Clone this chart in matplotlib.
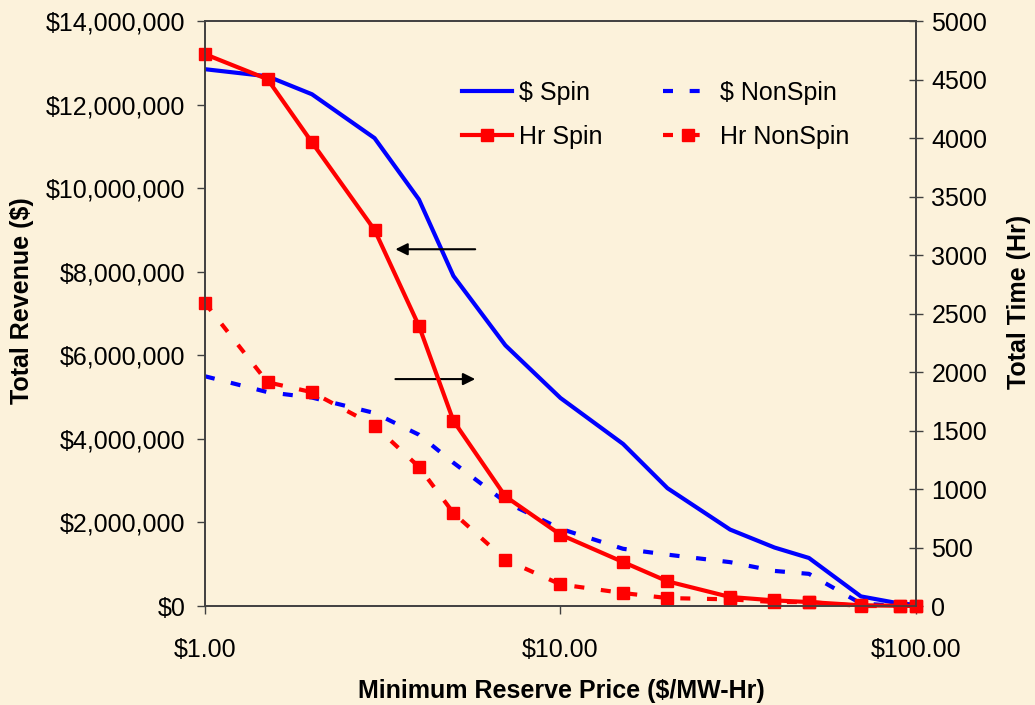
import matplotlib
matplotlib.use('Agg')
import matplotlib.pyplot as plt
from matplotlib.ticker import FuncFormatter, FixedLocator, NullLocator

# minimum reserve price ($/MW-Hr)
price = [1, 1.5, 2, 3, 4, 5, 7, 10, 15, 20, 30, 40, 50, 70, 90, 100]

# total revenue ($ millions)
spin_rev = [12.85, 12.68, 12.25, 11.20, 9.73, 7.90, 6.24, 4.98, 3.88, 2.82,
            1.83, 1.40, 1.15, 0.23, 0.06, 0.03]
nonspin_rev = [5.50, 5.12, 4.99, 4.62, 4.10, 3.43, 2.49, 1.85, 1.37, 1.23,
               1.05, 0.84, 0.77, 0.06, 0.0, 0.0]

# total time (hours)
spin_hr = [4718, 4504, 3964, 3215, 2394, 1583, 937, 610, 376, 211,
           77, 48, 34, 6, 2, 0]
nonspin_hr = [2591, 1913, 1828, 1542, 1189, 795, 396, 185, 111, 68,
              57, 34, 34, 0, 0, 0]

bg = '#FCF2DB'
spine_c = '#404040'
plt.rcParams['font.family'] = ['Liberation Sans', 'DejaVu Sans']
plt.rcParams['font.size'] = 18

fig = plt.figure(figsize=(10.35, 7.05), dpi=100)
fig.patch.set_facecolor(bg)
ax = fig.add_axes([0.198, 0.1404, 0.687, 0.8296])
ax.set_facecolor(bg)
ax2 = ax.twinx()

dash = (0, (2.4, 4.0))
l1, = ax.plot(price, [v * 1e6 for v in spin_rev], color='#0000FF', lw=3, label='$ Spin')
l2, = ax.plot(price, [v * 1e6 for v in nonspin_rev], color='#0000FF', lw=3,
              linestyle=dash, label='$ NonSpin')
l3, = ax2.plot(price, spin_hr, color='#FF0000', lw=3, marker='s', markersize=9,
               label='Hr Spin', clip_on=False)
l4, = ax2.plot(price, nonspin_hr, color='#FF0000', lw=3, linestyle=dash, marker='s',
               markersize=9, label='Hr NonSpin', clip_on=False)

ax.set_xscale('log')
ax.set_xlim(1, 100)
ax.set_ylim(0, 14e6)
ax2.set_ylim(0, 5000)
ax.xaxis.set_major_locator(FixedLocator([1, 10, 100]))
ax.xaxis.set_minor_locator(NullLocator())
ax.xaxis.set_major_formatter(FuncFormatter(lambda v, p: '${:.2f}'.format(v)))
ax.set_yticks([i * 2e6 for i in range(8)])
ax.yaxis.set_major_formatter(FuncFormatter(lambda v, p: '${:,.0f}'.format(v)))
ax2.set_yticks(range(0, 5001, 500))

for a in (ax, ax2):
    for s in a.spines.values():
        s.set_color(spine_c)
        s.set_linewidth(1.2)
ax.tick_params(axis='y', direction='out', length=6, width=1, color=spine_c, pad=8)
ax.tick_params(axis='x', direction='out', length=6, width=1, color=spine_c, pad=17)
ax2.tick_params(axis='y', direction='inout', length=10, width=1, color=spine_c, pad=6)

ax.set_xlabel('Minimum Reserve Price ($/MW-Hr)', fontsize=18, fontweight='bold')
ax.set_ylabel('Total Revenue ($)', fontsize=18, fontweight='bold')
ax2.set_ylabel('Total Time (Hr)', fontsize=18, fontweight='bold')
ax.xaxis.set_label_coords(0.502, -0.124)
ax.yaxis.set_label_coords(-0.24, 0.523)
ax2.yaxis.set_label_coords(1.128, 0.52)

# arrows pointing to each axis
ax.annotate('', xy=(0.264, 0.610), xytext=(0.384, 0.610), xycoords='axes fraction',
            arrowprops=dict(arrowstyle='-|>', color='black', lw=1.5, mutation_scale=18))
ax.annotate('', xy=(0.384, 0.388), xytext=(0.264, 0.388), xycoords='axes fraction',
            arrowprops=dict(arrowstyle='-|>', color='black', lw=1.5, mutation_scale=18))

ax2.legend([l1, l3, l2, l4], ['$ Spin', 'Hr Spin', '$ NonSpin', 'Hr NonSpin'],
           ncol=2, loc='upper left', bbox_to_anchor=(0.361, 0.898), frameon=False,
           handlelength=2.0, handletextpad=0.3, columnspacing=2.4, labelspacing=0.79,
           borderpad=0, borderaxespad=0, fontsize=18)

fig.savefig('out.png', dpi=100, facecolor=bg)
